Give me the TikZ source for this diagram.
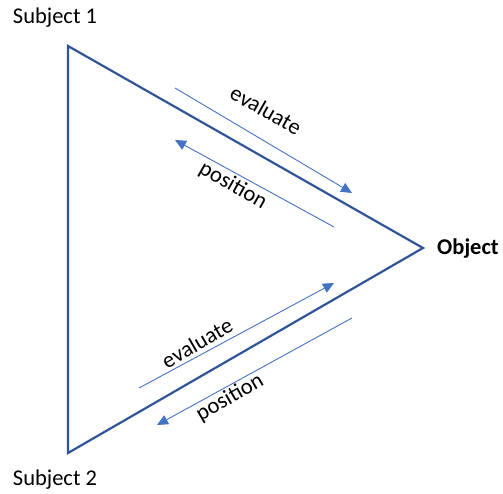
\documentclass[tikz,border=0pt]{standalone}
\usepackage{fontspec}
\setmainfont{Carlito}
\usetikzlibrary{arrows.meta}
\usetikzlibrary{positioning}
\definecolor{edgeblue}{RGB}{47,85,151}
\definecolor{arrowblue}{RGB}{68,114,196}

\begin{document}
\begin{tikzpicture}[x=1pt,y=-1pt,
    txt/.style={font=\fontsize{22.5}{26}\selectfont, inner sep=0pt},
    flow/.style={arrowblue, line width=0.9pt, -{Triangle[length=11pt,width=10pt]}}]
    \useasboundingbox (0,0) rectangle (503,494);

    \coordinate (s1) at (68,46);
    \coordinate (s2) at (68,453);
    \coordinate (o) at (423,248);

    \node[txt] (subj1) at (55,18) {Subject 1};
    \node[txt] (subj2) at (55,480) {Subject 2};
    \node[txt, font=\fontsize{22.5}{26}\selectfont\bfseries] (obj) at (468,249) {Object};

    \draw[edgeblue, line width=2.2pt, line join=miter] (s1) -- (o) -- (s2) -- cycle;

    \coordinate (ue0) at (175,88);
    \coordinate (ue1) at (352,193);
    \coordinate (up0) at (334,227);
    \coordinate (up1) at (175,140);
    \coordinate (le0) at (139,388);
    \coordinate (le1) at (334,283);
    \coordinate (lp0) at (352,318);
    \coordinate (lp1) at (157,425);

    \draw[flow] (ue0) -- (ue1);
    \draw[flow] (up0) -- (up1);
    \draw[flow] (le0) -- (le1);
    \draw[flow] (lp0) -- (lp1);

    \node[txt, rotate=-29.6] (uevl) at (266,110) {evaluate};
    \node[txt, rotate=-29.6] (upos) at (233,186) {position};
    \node[txt, rotate=30] (levl) at (197,343) {evaluate};
    \node[txt, rotate=30] (lpos) at (230,398) {position};
\end{tikzpicture}
\end{document}
